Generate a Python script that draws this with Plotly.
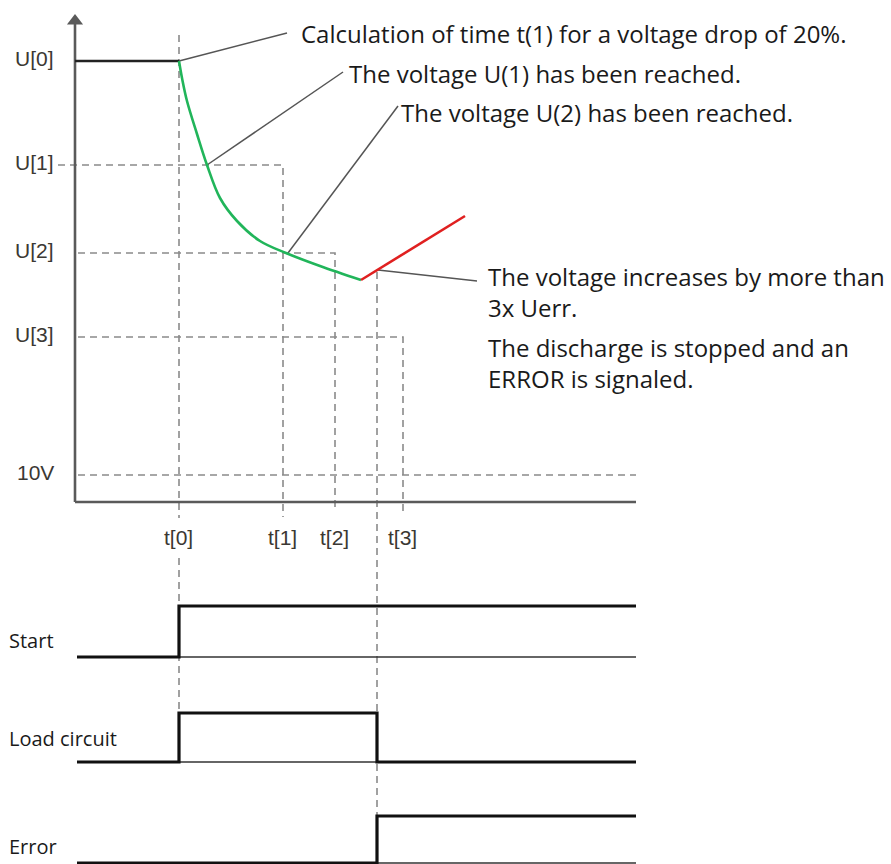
import plotly.graph_objects as go

# ---- data (diagram units: x = time position, y = level position, y axis reversed) ----
t_labels = ["t[0]", "t[1]", "t[2]", "t[3]"]
t_values = [179, 283, 335, 403]
t_stop = 377

u_labels = ["U[0]", "U[1]", "U[2]", "U[3]", "10V"]
u_values = [61, 165, 253, 337, 475]

x_axis_y = 502
x_start = 75
x_end = 636

# voltage before discharge
idle_x = [75, 179]
idle_y = [61, 61]
# discharge curve (green)
discharge_x = [179, 182, 187, 197, 207, 220, 237, 260, 286, 320, 361]
discharge_y = [61, 78, 101, 134, 165, 198, 221, 241, 253, 266, 280]
# voltage rise (red)
rise_x = [361, 465]
rise_y = [280, 216]

# digital signals
sig_names = ["Start", "Load circuit", "Error"]
sig_low = [657, 762, 863]
sig_high = [606, 713, 816]
sig_rise = [179, 179, 377]
sig_fall = [None, 377, None]
sig_label_y = [640, 738, 846]

# callouts: anchor point on curve, end of leader, text blocks
call_anchor_x = [179, 207, 288, 378]
call_anchor_y = [61, 165, 253, 270]
call_end_x = [287, 343, 398, 477]
call_end_y = [33, 72, 106, 281]
call_texts = [
    ["Calculation of time t(1) for a voltage drop of 20%."],
    ["The voltage U(1) has been reached."],
    ["The voltage U(2) has been reached."],
    ["The voltage increases by more than<br>3x Uerr.", "The discharge is stopped and an<br>ERROR is signaled."],
]
call_text_x = [299, 347, 399, 486]
call_text_y = [[33], [73], [112], [291.5, 363]]

# ---- styles ----
DASH = dict(color="#8a8a8a", width=1.6, dash="7px,5px")
AXIS = dict(color="#5a5a5a", width=2.6)
THICK = dict(color="#111111", width=3.2)
THIN = dict(color="#333333", width=1.3)
LABEL_FONT = dict(family="Liberation Sans, Arial", size=21, color="#3b3833")
TEXT_FONT = dict(family="Open Sans", size=24, color="#1a1a1a")
SIG_FONT = dict(family="Open Sans", size=20, color="#1a1a1a")

fig = go.Figure()


def line(xs, ys, style, shape="linear"):
    fig.add_trace(go.Scatter(x=xs, y=ys, mode="lines", line=dict(style, shape=shape),
                             hoverinfo="skip", showlegend=False))


# dashed helper lines
line([58, t_values[1], t_values[1]], [u_values[1], u_values[1], 517], DASH)
line([78, t_values[2], t_values[2]], [u_values[2], u_values[2], 512], DASH)
line([78, t_values[3], t_values[3]], [u_values[3], u_values[3], 512], DASH)
line([78, x_end], [u_values[4], u_values[4]], DASH)
line([t_values[0], t_values[0]], [35, 518], DASH)
line([t_values[0], t_values[0]], [558, sig_high[1]], DASH)
line([t_stop, t_stop], [272, sig_high[2]], DASH)

# axes
line([x_start, x_start], [24, x_axis_y], AXIS)
line([x_start, x_end], [x_axis_y, x_axis_y], AXIS)
fig.add_trace(go.Scatter(x=[x_start], y=[21], mode="markers",
                         marker=dict(symbol="triangle-up", size=14, color="#5a5a5a"),
                         hoverinfo="skip", showlegend=False))

# callout leader lines
for ax_, ay_, ex_, ey_ in zip(call_anchor_x, call_anchor_y, call_end_x, call_end_y):
    line([ax_, ex_], [ay_, ey_], dict(color="#555555", width=1.5))

# voltage curve
line(idle_x, idle_y, dict(color="#222222", width=2.4))
line(discharge_x, discharge_y, dict(color="#21b55a", width=2.6), shape="spline")
line(rise_x, rise_y, dict(color="#e02020", width=2.6))

# digital signals
for low, high, rise, fall in zip(sig_low, sig_high, sig_rise, sig_fall):
    if fall is None:
        line([rise, x_end], [low, low], THIN)
        line([77, rise, rise, x_end], [low, low, high, high], THICK)
    else:
        line([rise, fall], [low, low], THIN)
        line([77, rise, rise, fall, fall, x_end], [low, low, high, high, low, low], THICK)

annotations = []
for lab, yv in zip(u_labels, u_values):
    annotations.append(dict(x=56, y=yv - 3, text=lab, showarrow=False,
                            xanchor="right", yanchor="middle", font=LABEL_FONT))
for lab, xv in zip(t_labels, t_values):
    annotations.append(dict(x=xv - 1, y=537, text=lab, showarrow=False,
                            xanchor="center", yanchor="middle", font=LABEL_FONT))
for name, yv in zip(sig_names, sig_label_y):
    annotations.append(dict(x=7, y=yv, text=name, showarrow=False,
                            xanchor="left", yanchor="middle", font=SIG_FONT))
for lines_, tx, tys in zip(call_texts, call_text_x, call_text_y):
    for txt, ty in zip(lines_, tys):
        annotations.append(dict(x=tx, y=ty, text=txt, showarrow=False, align="left",
                                xanchor="left", yanchor="middle", font=TEXT_FONT))

fig.update_layout(
    width=891, height=864,
    margin=dict(l=0, r=0, t=0, b=0),
    paper_bgcolor="white", plot_bgcolor="white",
    xaxis=dict(range=[0, 891], visible=False, fixedrange=True),
    yaxis=dict(range=[864, 0], visible=False, fixedrange=True),
    annotations=annotations,
    showlegend=False,
)

fig.write_html("out.html", config={"displayModeBar": False},
               post_script="document.body.style.margin='0';document.body.style.overflow='hidden';")
